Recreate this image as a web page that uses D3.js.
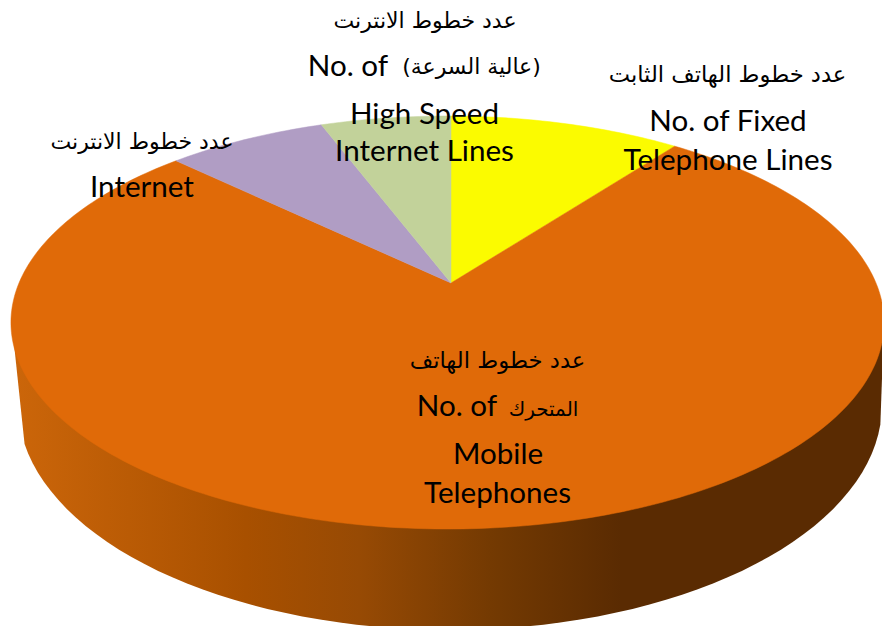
<!DOCTYPE html>
<html><head><meta charset="utf-8">
<script src="https://cdn.jsdelivr.net/npm/d3@7/dist/d3.min.js"></script>
<style>html,body{margin:0;padding:0;background:#fff;overflow:hidden}svg{display:block}
text{fill:#000}
.en{font-family:Lato,"Open Sans",sans-serif}
.ar{font-family:"DejaVu Sans",sans-serif}</style>
</head><body><svg id="c" width="882" height="626"></svg>
<script>
// Data (share of total, %), clockwise from the top
const categories = ["No. of Fixed Telephone Lines","No. of Mobile Telephones","Internet","No. of High Speed Internet Lines"];
const shares = [10.3, 76.8, 7.1, 5.8];
const colours = ["#FBFB00","#E06A08","#B09DC4","#C2D29A"];
// Label lines
const labelText = ["عدد خطوط الانترنت","No. of","(عالية السرعة)","High Speed","Internet Lines",
  "عدد خطوط الهاتف الثابت","No. of Fixed","Telephone Lines",
  "عدد خطوط الانترنت","Internet",
  "عدد خطوط الهاتف","No. of","المتحرك","Mobile","Telephones"];
const labelX = [425,348,471.5,424.5,424.5, 727.5,728,728, 142,142, 497.5,457,543.5,498,497.5];
const labelY = [28,76,74,124,161, 82,131,170, 149,197, 368,416,416,464,503];
const labelSize = [22,29.6,22,29.6,29.6, 22.6,29.6,29.6, 22,29.6, 22.7,29.6,20,29.6,29.6];

const svg = d3.select("#c");
svg.append("title").text(categories.join(", "));
const deg = Math.PI/180;
const pie = d3.pie().sort(null).value(d=>d).startAngle(0.56*deg).endAngle((360+0.56)*deg);
const arcs = pie(shares);

// perspective projection of the pie's unit circle
const k=-0.1913, Fx=428.5, X0=447.5, Y0=283, Fy=144.8, apexShift=3.5;
const project = a => { const u=Math.sin(a), v=-Math.cos(a), w=1+k*v; return [X0+Fx*u/w, (Y0+Fy*v)/w]; };
const apex = [X0+apexShift, Y0];
const line = d3.line();

// side wall
const defs = svg.append("defs");
const grad = defs.append("linearGradient").attr("id","wall").attr("gradientUnits","userSpaceOnUse")
  .attr("x1",11).attr("x2",882).attr("y1",0).attr("y2",0);
[[0,"#CC660A"],[0.27,"#A85000"],[0.40,"#974A04"],[0.55,"#743A02"],[0.70,"#5A2B02"],[1,"#5A2B02"]]
  .forEach(s=>grad.append("stop").attr("offset",s[0]).attr("stop-color",s[1]));

const bx=450, by=405, brx=432, bry=225;
const lower = d3.range(10,176,2.5).map(t=>[bx-brx*Math.cos(t*deg), by+bry*Math.sin(t*deg)]);
const wallPts = [[12,325],...lower,[884,322]];
svg.append("path").attr("d",line(wallPts)+"Z").attr("fill","url(#wall)");

// top face
svg.append("g").selectAll("path").data(arcs).join("path")
  .attr("fill",(d,i)=>colours[i])
  .attr("stroke",(d,i)=>colours[i]).attr("stroke-width",0.5)
  .attr("d",d=>{
    const n=Math.max(2,Math.ceil((d.endAngle-d.startAngle)/deg));
    const pts=d3.range(n+1).map(i=>project(d.startAngle+(d.endAngle-d.startAngle)*i/n));
    return line([apex,...pts])+"Z";
  });

// labels
svg.append("g").selectAll("text").data(labelText).join("text")
  .attr("class",d=>/[\u0600-\u06FF]/.test(d)?"ar":"en")
  .attr("direction",d=>/[\u0600-\u06FF]/.test(d)?"rtl":"ltr")
  .attr("text-anchor","middle")
  .attr("font-size",(d,i)=>labelSize[i])
  .attr("x",(d,i)=>labelX[i]).attr("y",(d,i)=>labelY[i])
  .text(d=>d);
</script></body></html>
